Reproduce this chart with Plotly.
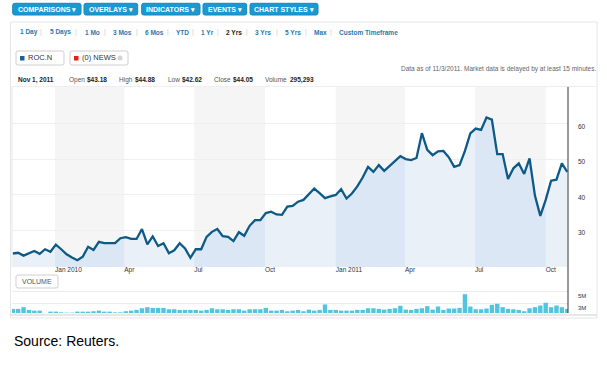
import plotly.graph_objects as go
import pandas as pd
import numpy as np

W, H = 607, 384

# ---------------- data ----------------
dates = pd.date_range("2009-11-07", periods=104, freq="7D")
price = [23.4, 23.6, 22.8, 23.5, 24.1, 23.3, 24.6, 23.9, 25.9, 24.6,
         23.2, 22.3, 21.5, 22.5, 25.3, 24.4, 26.7, 26.3, 26.3, 26.3,
         27.7, 28.0, 27.5, 27.5, 30.3, 26.0, 28.2, 25.5, 26.3, 23.5,
         24.3, 26.3, 24.8, 22.2, 24.6, 24.6, 28.1, 29.5, 30.3, 28.3,
         28.1, 26.9, 29.4, 28.4, 31.2, 32.8, 32.8, 34.8, 35.2, 34.4,
         34.3, 36.6, 36.8, 38.0, 38.5, 40.1, 41.7, 40.4, 39.0, 39.5,
         39.9, 41.5, 38.9, 40.3, 42.3, 44.8, 47.8, 46.4, 48.3, 46.7,
         48.1, 49.5, 50.8, 50.0, 49.7, 50.3, 57.3, 52.6, 51.1, 52.2,
         52.3, 50.5, 47.8, 48.3, 52.3, 57.2, 58.6, 58.2, 61.7, 61.1,
         51.4, 51.4, 44.4, 47.4, 48.8, 45.8, 50.2, 39.7, 34.0, 38.5,
         43.9, 44.2, 48.8, 46.4]
volume_m = [2.09, 2.09, 2.38, 1.92, 1.80, 1.80, 1.40, 1.63, 1.63, 1.51,
            1.46, 1.46, 1.63, 1.63, 1.63, 1.69, 1.80, 1.63, 1.63, 1.51,
            1.51, 1.69, 1.80, 1.92, 2.20, 2.38, 2.26, 2.26, 2.26, 2.03,
            2.03, 1.92, 1.92, 1.92, 1.92, 1.80, 1.92, 2.20, 2.03, 2.03,
            1.92, 2.03, 2.03, 1.80, 2.03, 2.03, 2.03, 2.26, 1.80, 1.80,
            1.92, 1.69, 1.80, 1.92, 1.69, 1.97, 1.80, 1.92, 2.84, 1.92,
            1.92, 1.80, 1.80, 1.80, 1.92, 1.92, 2.20, 2.20, 2.09, 1.97,
            2.09, 2.20, 2.61, 1.97, 1.92, 2.09, 2.20, 2.55, 1.97, 2.49,
            1.92, 2.15, 2.15, 2.26, 4.56, 2.49, 2.03, 2.03, 2.15, 2.78,
            2.95, 2.38, 2.09, 2.03, 1.92, 1.69, 2.20, 2.38, 2.66, 3.12,
            2.38, 2.66, 2.38, 2.09]
shaded_quarters = [("2010-01-01", "2010-04-01"), ("2010-07-01", "2010-10-01"),
                   ("2011-01-01", "2011-04-01"), ("2011-07-01", "2011-10-01")]
quarter_ticks = ["2010-01-01", "2010-04-01", "2010-07-01", "2010-10-01",
                 "2011-01-01", "2011-04-01", "2011-07-01", "2011-10-01"]
quarter_labels = ["Jan 2010", "Apr", "Jul", "Oct", "Jan 2011", "Apr", "Jul", "Oct"]
price_ticks = [30, 40, 50, 60]
vol_ticks = [3, 5]
vol_labels = ["3M", "5M"]
buttons = ["COMPARISONS", "OVERLAYS", "INDICATORS", "EVENTS", "CHART STYLES"]
range_links = ["1 Day", "5 Days", "1 Mo", "3 Mos", "6 Mos", "YTD", "1 Yr",
               "2 Yrs", "3 Yrs", "5 Yrs", "Max", "Custom Timeframe"]
selected_range = "2 Yrs"
info_labels = ["Open", "High", "Low", "Close", "Volume"]
info_values = ["$43.18", "$44.88", "$42.62", "$44.05", "295,293"]
info_date = "Nov 1, 2011"
ticker = "ROC.N"
news = "(0) NEWS"
note = "Data as of 11/3/2011. Market data is delayed by at least 15 minutes."
source = "Source: Reuters."

# ---------------- layout helpers ----------------
FONT = "Liberation Sans, Arial, sans-serif"
LINE = "#0e5a86"
def px(x): return x / W
def py(y): return 1 - y / H

def rrect(x0, y0, x1, y1, r):
    rx, ry = r / W, r / H
    a0, a1, b0, b1 = px(x0), px(x1), py(y1), py(y0)
    return (f"M {a0+rx},{b1} L {a1-rx},{b1} Q {a1},{b1} {a1},{b1-ry} "
            f"L {a1},{b0+ry} Q {a1},{b0} {a1-rx},{b0} L {a0+rx},{b0} "
            f"Q {a0},{b0} {a0},{b0+ry} L {a0},{b1-ry} Q {a0},{b1} {a0+rx},{b1} Z")

shapes, ann = [], []
def text(x, y, s, size=7, color="#333", anchor="left", bold=False, font=FONT):
    ann.append(dict(x=px(x), y=py(y), xref="paper", yref="paper", text=s,
                    showarrow=False, xanchor=anchor, yanchor="middle",
                    font=dict(family=font, size=size, color=color,
                              weight="bold" if bold else "normal")))

PL, PR, PT, PB = 12, 568, 87, 267      # price plot box (px)
VT, VB = 288, 313                       # volume panel (px)

fig = go.Figure()

fig.add_trace(go.Scatter(x=dates, y=price, mode="lines", line=dict(width=0, color=LINE),
                         fill="tozeroy", fillcolor="#eaf0f8", hoverinfo="skip",
                         xaxis="x", yaxis="y", showlegend=False))
tnum = dates.values.astype("datetime64[s]").astype(np.int64)
for q0, q1 in shaded_quarters:
    t0 = np.datetime64(q0, "s").astype(np.int64)
    t1 = np.datetime64(q1, "s").astype(np.int64)
    m = (tnum > t0) & (tnum < t1)
    xs = [pd.Timestamp(q0)] + list(dates[m]) + [pd.Timestamp(q1)]
    ys = [float(np.interp(t0, tnum, price))] + list(np.array(price)[m]) + [float(np.interp(t1, tnum, price))]
    fig.add_trace(go.Scatter(x=xs, y=ys, mode="lines", line=dict(width=0),
                             fill="tozeroy", fillcolor="#dbe7f5", hoverinfo="skip",
                             xaxis="x", yaxis="y", showlegend=False))
    shapes.append(dict(type="rect", xref="x", yref="paper", x0=q0, x1=q1,
                       y0=py(PB), y1=py(PT), fillcolor="#f5f5f5", line_width=0, layer="below"))

fig.add_trace(go.Scatter(x=dates, y=price, mode="lines", line=dict(width=2.3, color=LINE),
                         xaxis="x", yaxis="y", showlegend=False, name=ticker))

# invisible carrier so the date-label axis is drawn
fig.add_trace(go.Scatter(x=dates, y=price, mode="lines", line=dict(width=0),
                         opacity=0, hoverinfo="skip", xaxis="x3", yaxis="y",
                         showlegend=False))

fig.add_trace(go.Bar(x=dates, y=volume_m, marker=dict(color="#4fc5df", line_width=0),
                     xaxis="x2", yaxis="y2", showlegend=False, width=6 * 86400000 * 0.95))

xrange = ["2009-11-06", "2011-10-30"]
fig.update_layout(
    width=W, height=H, margin=dict(l=0, r=0, t=0, b=0),
    paper_bgcolor="white", plot_bgcolor="rgba(0,0,0,0)",
    bargap=0.05,
    xaxis=dict(domain=[px(PL), px(PR)], range=xrange, type="date",
               showticklabels=False, showgrid=False, ticks="", anchor="y",
               zeroline=False, showline=False),
    xaxis3=dict(domain=[px(PL), px(PR)], range=xrange, type="date", overlaying="x",
                anchor="free", position=py(PB - 2.5), side="bottom",
                tickvals=quarter_ticks, ticktext=quarter_labels, showgrid=False,
                ticks="", ticklabelposition="outside right", ticklabelstandoff=0,
                tickfont=dict(family=FONT, size=6.5, color="#333"),
                zeroline=False, showline=False),
    yaxis=dict(domain=[py(PB), py(PT)], range=[19.6, 70.3], side="right",
               tickvals=price_ticks, showgrid=True, gridcolor="#efefef", gridwidth=1,
               ticks="", ticklabelstandoff=9, ticklabelshift=3,
               tickfont=dict(family=FONT, size=6.5, color="#333"), zeroline=False,
               showline=False, anchor="x"),
    xaxis2=dict(domain=[px(PL), px(PR)], range=xrange, type="date", matches="x",
                showticklabels=False, showgrid=False, ticks="", anchor="y2", zeroline=False),
    yaxis2=dict(domain=[py(VB), py(VT)], range=[1.4, 5.6], side="right",
                tickvals=vol_ticks, ticktext=vol_labels, showgrid=True,
                gridcolor="#ececec", ticks="", ticklabelstandoff=9, ticklabelshift=4,
                tickfont=dict(family=FONT, size=6, color="#333"), zeroline=False,
                anchor="x2"),
)

# ---------------- chrome ----------------
bx = [(12.7, 81), (84, 137.7), (141.7, 200), (203, 246.7), (250, 318)]
for (x0, x1), b in zip(bx, buttons):
    shapes.append(dict(type="path", path=rrect(x0, 3.3, x1, 15, 2), xref="paper", yref="paper",
                       fillcolor="#1c98cf", line=dict(color="#1788bd", width=1)))
    text((x0 + x1) / 2, 9.4, b + " ▾", size=7, color="white", anchor="center", bold=True)

shapes.append(dict(type="rect", xref="paper", yref="paper", x0=px(10.5), x1=px(597),
                   y0=py(318), y1=py(22), line=dict(color="#e6e6e6", width=1)))

link_x = [18, 47.5, 83, 111, 143, 174, 199, 224, 253, 283, 312, 337]
sep_x = [40.7, 76, 105, 137, 168, 193, 218, 247, 277, 306, 331]
for lx, s in zip(link_x, range_links):
    sel = s == selected_range
    text(lx, 32.5, s, size=6.5, color="#222" if sel else "#1f7ab0", bold=True)
for sx in sep_x:
    text(sx, 32.5, "|", size=6.5, color="#cccccc", anchor="center")

shapes.append(dict(type="path", path=rrect(16, 51, 64, 65, 2), xref="paper", yref="paper",
                   fillcolor="white", line=dict(color="#cfcfcf", width=1)))
shapes.append(dict(type="rect", xref="paper", yref="paper", x0=px(20), x1=px(24.5),
                   y0=py(60.5), y1=py(56), fillcolor="#1f5f8e", line_width=0))
text(25.5, 58, ticker, size=7.5, color="#333")
shapes.append(dict(type="path", path=rrect(70, 51, 128, 65, 2), xref="paper", yref="paper",
                   fillcolor="white", line=dict(color="#cfcfcf", width=1)))
shapes.append(dict(type="rect", xref="paper", yref="paper", x0=px(74), x1=px(78.5),
                   y0=py(60.5), y1=py(56), fillcolor="#e3231b", line_width=0))
text(79.5, 58, news, size=7.5, color="#333")
shapes.append(dict(type="circle", xref="paper", yref="paper", x0=px(117.5), x1=px(122.5),
                   y0=py(60.5), y1=py(55.5), fillcolor="#d4d4d4", line_width=0))

text(598, 69, note, size=6.5, color="#666", anchor="right")

text(16, 80, info_date, size=6.5, color="#222", bold=True)
info_x = [67, 117, 166, 212, 263]
for ix, lab, val in zip(info_x, info_labels, info_values):
    w = {"Open": 18, "High": 16, "Low": 14, "Close": 19, "Volume": 25}[lab]
    text(ix, 79.5, lab, size=6.5, color="#555")
    text(ix + w, 80, val, size=6.5, color="#222", bold=True)
shapes.append(dict(type="line", xref="paper", yref="paper", x0=px(12), x1=px(597),
                   y0=py(86.5), y1=py(86.5), line=dict(color="#eeeeee", width=1)))

shapes.append(dict(type="line", xref="paper", yref="paper", x0=px(PR), x1=px(PR),
                   y0=py(VB), y1=py(PT), line=dict(color="#333333", width=1)))
shapes.append(dict(type="line", xref="paper", yref="paper", x0=px(PL), x1=px(PL),
                   y0=py(PB), y1=py(PT), line=dict(color="#e8e8e8", width=1)))
shapes.append(dict(type="line", xref="paper", yref="paper", x0=px(10.5), x1=px(597),
                   y0=py(315), y1=py(315), line=dict(color="#cfcfcf", width=1)))

shapes.append(dict(type="path", path=rrect(16, 275, 58, 288, 2), xref="paper", yref="paper",
                   fillcolor="white", line=dict(color="#cfcfcf", width=1)))
text(37, 281.5, "VOLUME", size=7, color="#555", anchor="center")

text(12, 341, source, size=14, color="#000")

fig.update_layout(shapes=shapes, annotations=ann)
fig.write_html("out.html", config={"displayModeBar": False},
               post_script="document.body.style.margin='0px';document.body.style.overflow='hidden';")
